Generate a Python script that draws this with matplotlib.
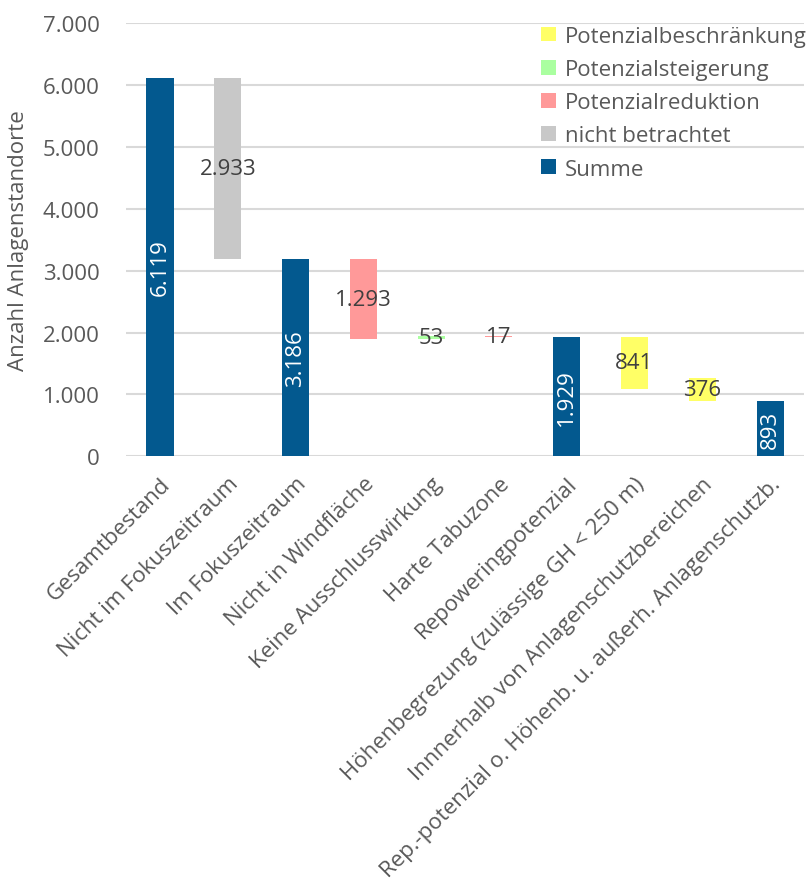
import numpy as np
import matplotlib
matplotlib.use("Agg")
import matplotlib.pyplot as plt
from matplotlib.patches import Patch

plt.rcParams['font.family'] = ['Open Sans', 'DejaVu Sans']

kategorien = ["Gesamtbestand", "Nicht im Fokuszeitraum", "Im Fokuszeitraum",
              "Nicht in Windfläche", "Keine Ausschlusswirkung", "Harte Tabuzone",
              "Repoweringpotenzial", "Höhenbegrezung (zulässige GH < 250 m)",
              "Innnerhalb von Anlagenschutzbereichen",
              "Rep.-potenzial o. Höhenb. u. außerh. Anlagenschutzb."]
werte = [6119, 2933, 3186, 1293, 53, 17, 1929, 841, 376, 893]
basis = [0, 3186, 0, 1893, 1893, 1929, 0, 1088, 893, 0]
typ = ["Summe", "nicht betrachtet", "Summe", "Potenzialreduktion",
       "Potenzialsteigerung", "Potenzialreduktion", "Summe",
       "Potenzialbeschränkung", "Potenzialbeschränkung", "Summe"]

farben = {"Potenzialbeschränkung": "#FFFF66",
          "Potenzialsteigerung": "#AAFFA0",
          "Potenzialreduktion": "#FF9999",
          "nicht betrachtet": "#C8C8C8",
          "Summe": "#03598F"}

grau = "#595959"
fs = 16

fig = plt.figure(figsize=(8.08, 8.95), dpi=100)
ax = fig.add_axes([0.156, 0.489, 0.839, 0.484])

x = np.arange(len(kategorien))
ax.bar(x, werte, bottom=basis, width=0.4, color=[farben[t] for t in typ], zorder=3)

def fmt(v):
    return f"{v:,}".replace(",", ".")

for i in range(len(werte)):
    mitte = basis[i] + werte[i] / 2
    if typ[i] == "Summe":
        ax.text(x[i], mitte, fmt(werte[i]), rotation=90, ha='center', va='center',
                color='white', fontsize=fs, zorder=4)
    else:
        ax.text(x[i], mitte, fmt(werte[i]), ha='center', va='center',
                color='#404040', fontsize=fs, zorder=4)

ax.set_xlim(-0.5, len(kategorien) - 0.5)
ax.set_ylim(0, 7000)
ax.set_yticks(np.arange(0, 7001, 1000))
ax.set_yticklabels([fmt(v) for v in range(0, 7001, 1000)])
ax.grid(axis='y', color='#D9D9D9', linewidth=1.5, zorder=0)
for s in ax.spines.values():
    s.set_visible(False)
ax.tick_params(axis='both', length=0, labelsize=fs, labelcolor=grau)
ax.tick_params(axis='y', pad=19)
ax.set_xticks(x)
ax.set_xticklabels(kategorien, rotation=45, ha='right', rotation_mode='anchor')
ax.tick_params(axis='x', pad=12)
ax.set_ylabel("Anzahl Anlagenstandorte", fontsize=fs, color=grau, labelpad=10)

reihen = ["Potenzialbeschränkung", "Potenzialsteigerung", "Potenzialreduktion",
          "nicht betrachtet", "Summe"]
handles = [Patch(facecolor=farben[r], label=r) for r in reihen]
leg = ax.legend(handles=handles, loc='upper right', bbox_to_anchor=(1.027, 1.03),
                frameon=False, fontsize=fs, handlelength=0.65, handleheight=0.65,
                handletextpad=0.4, labelspacing=0.55, borderpad=0.2)
for t in leg.get_texts():
    t.set_color(grau)

fig.savefig("out.png", dpi=100)
